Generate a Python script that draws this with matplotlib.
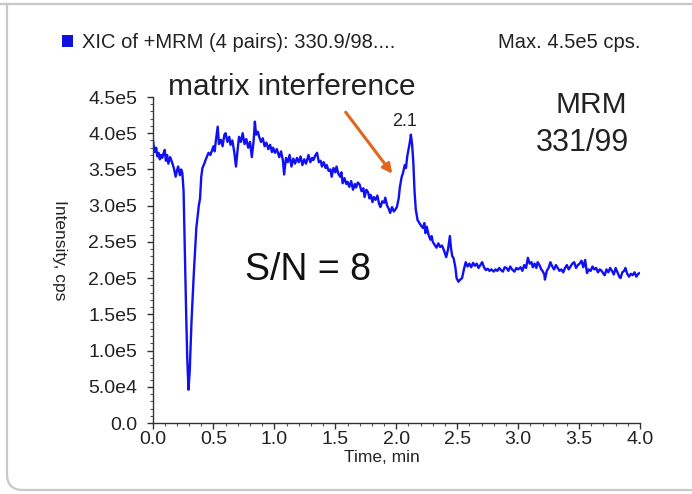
import matplotlib
matplotlib.use("Agg")
import matplotlib.pyplot as plt
from matplotlib.patches import FancyArrowPatch, Rectangle
from matplotlib.path import Path
from matplotlib.patches import PathPatch
import numpy as np

plt.rcParams['font.family'] = ['Liberation Sans', 'DejaVu Sans']

# XIC trace, time in min, intensity in units of 1e5 cps
time_min = [
    0.00, 0.01, 0.02, 0.03, 0.04, 0.05, 0.06, 0.07, 0.08, 0.09,
    0.10, 0.11, 0.12, 0.13, 0.145, 0.16, 0.175, 0.19, 0.20, 0.21,
    0.225, 0.235, 0.245, 0.255, 0.265, 0.275, 0.285, 0.295, 0.305, 0.32,
    0.34, 0.36, 0.38, 0.39, 0.40, 0.41, 0.425, 0.44, 0.46, 0.475,
    0.49, 0.50, 0.51, 0.52, 0.535, 0.545, 0.56, 0.575, 0.59, 0.60,
    0.615, 0.63, 0.64, 0.655, 0.67, 0.685, 0.70, 0.71, 0.725, 0.74,
    0.755, 0.77, 0.785, 0.80, 0.815, 0.83, 0.84, 0.85, 0.865, 0.875,
    0.89, 0.905, 0.92, 0.935, 0.95, 0.965, 0.98, 0.99, 1.005, 1.02,
    1.04, 1.055, 1.07, 1.08, 1.095, 1.11, 1.125, 1.14, 1.155, 1.17,
    1.185, 1.20, 1.215, 1.23, 1.245, 1.26, 1.28, 1.295, 1.31, 1.32,
    1.335, 1.35, 1.365, 1.38, 1.39, 1.405, 1.42, 1.43, 1.445, 1.46,
    1.47, 1.485, 1.50, 1.51, 1.525, 1.54, 1.55, 1.56, 1.575, 1.59,
    1.60, 1.615, 1.63, 1.645, 1.66, 1.67, 1.685, 1.70, 1.715, 1.73,
    1.74, 1.755, 1.77, 1.78, 1.79, 1.805, 1.815, 1.83, 1.845, 1.86,
    1.87, 1.885, 1.90, 1.91, 1.925, 1.94, 1.95, 1.965, 1.98, 1.99,
    2.005, 2.02, 2.03, 2.045, 2.055, 2.07, 2.08, 2.09, 2.10, 2.11,
    2.12, 2.13, 2.14, 2.15, 2.16, 2.175, 2.19, 2.205, 2.22, 2.23,
    2.24, 2.25, 2.265, 2.28, 2.29, 2.30, 2.315, 2.33, 2.345, 2.36,
    2.375, 2.39, 2.40, 2.41, 2.425, 2.44, 2.45, 2.46, 2.47, 2.485,
    2.495, 2.51, 2.525, 2.54, 2.555, 2.57, 2.585, 2.60, 2.615, 2.63,
    2.645, 2.66, 2.675, 2.69, 2.705, 2.72, 2.735, 2.75, 2.765, 2.78,
    2.80, 2.815, 2.83, 2.845, 2.86, 2.875, 2.89, 2.905, 2.92, 2.935,
    2.95, 2.97, 2.985, 3.00, 3.02, 3.035, 3.05, 3.065, 3.08, 3.095,
    3.11, 3.12, 3.135, 3.15, 3.16, 3.175, 3.19, 3.20, 3.215, 3.22,
    3.235, 3.25, 3.265, 3.28, 3.295, 3.31, 3.325, 3.34, 3.355, 3.37,
    3.385, 3.40, 3.415, 3.43, 3.445, 3.46, 3.475, 3.49, 3.505, 3.52,
    3.535, 3.55, 3.565, 3.58, 3.595, 3.61, 3.625, 3.64, 3.655, 3.67,
    3.685, 3.70, 3.71, 3.725, 3.74, 3.755, 3.77, 3.785, 3.80, 3.815,
    3.83, 3.84, 3.855, 3.87, 3.88, 3.895, 3.91, 3.925, 3.94, 3.955,
    3.97, 3.985, 4.00,
]
intensity_e5 = [
    3.95, 3.82, 3.74, 3.80, 3.68, 3.73, 3.64, 3.70, 3.66, 3.72,
    3.77, 3.62, 3.70, 3.58, 3.67, 3.60, 3.52, 3.40, 3.48, 3.54,
    3.42, 3.50, 3.45, 3.20, 2.40, 1.60, 0.90, 0.46, 0.70, 1.40,
    2.10, 2.70, 3.00, 3.10, 3.40, 3.52, 3.58, 3.65, 3.73, 3.70,
    3.77, 3.82, 3.75, 3.90, 4.09, 3.85, 3.91, 3.82, 3.98, 4.00,
    3.88, 3.95, 3.84, 3.90, 3.75, 3.54, 3.80, 3.95, 3.88, 4.00,
    3.85, 3.92, 3.80, 3.88, 3.67, 3.90, 4.16, 3.98, 4.02, 3.95,
    3.88, 3.93, 3.82, 3.87, 3.78, 3.84, 3.74, 3.80, 3.73, 3.78,
    3.67, 3.75, 3.62, 3.43, 3.66, 3.60, 3.70, 3.54, 3.65, 3.58,
    3.66, 3.60, 3.68, 3.56, 3.64, 3.58, 3.70, 3.60, 3.66, 3.63,
    3.69, 3.73, 3.60, 3.62, 3.54, 3.60, 3.52, 3.56, 3.48, 3.50,
    3.40, 3.52, 3.46, 3.54, 3.44, 3.40, 3.46, 3.31, 3.38, 3.30,
    3.33, 3.26, 3.34, 3.22, 3.30, 3.25, 3.32, 3.29, 3.20, 3.24,
    3.12, 3.22, 3.18, 3.10, 3.15, 3.05, 3.12, 3.08, 3.14, 3.02,
    2.98, 3.06, 3.04, 3.11, 3.00, 2.95, 2.90, 2.98, 2.92, 2.94,
    2.98, 3.10, 3.26, 3.40, 3.45, 3.56, 3.52, 3.68, 3.77, 3.86,
    3.98, 3.85, 3.60, 3.20, 2.95, 2.80, 2.76, 2.72, 2.69, 2.76,
    2.62, 2.71, 2.60, 2.53, 2.58, 2.50, 2.46, 2.42, 2.48, 2.43,
    2.45, 2.39, 2.34, 2.29, 2.40, 2.58, 2.40, 2.30, 2.28, 2.15,
    2.00, 1.95, 1.98, 2.00, 2.12, 2.22, 2.16, 2.20, 2.15, 2.21,
    2.17, 2.20, 2.14, 2.18, 2.22, 2.15, 2.11, 2.13, 2.10, 2.12,
    2.09, 2.12, 2.10, 2.14, 2.11, 2.09, 2.15, 2.14, 2.10, 2.16,
    2.12, 2.09, 2.14, 2.12, 2.15, 2.10, 2.18, 2.14, 2.28, 2.20,
    2.22, 2.15, 2.20, 2.14, 2.22, 2.18, 2.12, 2.10, 2.05, 1.98,
    2.10, 2.14, 2.22, 2.16, 2.12, 2.18, 2.14, 2.10, 2.12, 2.08,
    2.14, 2.18, 2.12, 2.16, 2.20, 2.22, 2.14, 2.18, 2.20, 2.24,
    2.15, 2.25, 2.07, 2.12, 2.10, 2.16, 2.12, 2.14, 2.08, 2.12,
    2.10, 2.06, 2.04, 2.12, 2.08, 2.14, 2.10, 2.05, 2.14, 2.08,
    2.02, 2.00, 2.08, 2.10, 2.14, 2.06, 2.02, 2.06, 2.04, 2.08,
    2.02, 2.06, 2.07,
]

x_ticks = [0.0, 0.5, 1.0, 1.5, 2.0, 2.5, 3.0, 3.5, 4.0]
y_ticks = [0, 0.5e5, 1.0e5, 1.5e5, 2.0e5, 2.5e5, 3.0e5, 3.5e5, 4.0e5, 4.5e5]
y_tick_labels = ['0.0', '5.0e4', '1.0e5', '1.5e5', '2.0e5', '2.5e5',
                 '3.0e5', '3.5e5', '4.0e5', '4.5e5']

W, H = 692, 494
fig = plt.figure(figsize=(W / 100, H / 100), dpi=100)
fig.patch.set_facecolor('white')

# card frame (top line, left side with rounded bottom corner)
def fx(px):
    return px / W

def fy(py):
    return 1 - py / H

fig.add_artist(plt.Line2D([0, 1], [fy(4), fy(4)], color='#c8c8c8', lw=1.6))
r = 16
verts = [(fx(7), fy(4)), (fx(7), fy(490 - r)), (fx(7), fy(490)),
         (fx(7 + r), fy(490)), (fx(W + 5), fy(490))]
codes = [Path.MOVETO, Path.LINETO, Path.CURVE3, Path.CURVE3, Path.LINETO]
fig.add_artist(PathPatch(Path(verts, codes), fill=False, edgecolor='#c8c8c8',
                         lw=1.6, transform=fig.transFigure))

ax = fig.add_axes([fx(152.5), fy(423), fx(640) - fx(152.5), fy(97) - fy(423)])
t = np.array(time_min)
y = np.array(intensity_e5) * 1e5
ax.plot(t, y, color='#1010f0', lw=1.7)

ax.set_xlim(0, 4.0)
ax.set_ylim(0, 4.5e5)
for s in ['top', 'right']:
    ax.spines[s].set_visible(False)
for s in ['left', 'bottom']:
    ax.spines[s].set_color('#333333')
    ax.spines[s].set_linewidth(1.0)

ax.set_xticks(x_ticks)
ax.set_xticklabels([f'{v:.1f}' for v in x_ticks])
ax.set_yticks(y_ticks)
ax.set_yticklabels(y_tick_labels)
ax.set_xticks(np.arange(0, 4.01, 0.1), minor=True)
ax.set_yticks(np.arange(0, 4.51e5, 0.1e5), minor=True)
ax.tick_params(axis='both', which='major', labelsize=14, length=4,
               width=1.0, color='#333333', labelcolor='#222222')
ax.tick_params(axis='both', which='minor', length=2.5, width=0.8,
               color='#555555')
ax.tick_params(axis='x', pad=2)
ax.tick_params(axis='y', pad=7)

ax.text(-0.19, 0.53, 'Intensity, cps', transform=ax.transAxes, rotation=270,
        ha='center', va='center', fontsize=12.5, color='#222222')
ax.text(0.47, -0.105, 'Time, min', transform=ax.transAxes, ha='center',
        va='center', fontsize=12.5, color='#222222')

# header
fig.add_artist(Rectangle((fx(62), fy(47)), fx(11), fy(35) - fy(47),
                         facecolor='#1010e0', edgecolor='none',
                         transform=fig.transFigure))
fig.text(fx(82), fy(42), 'XIC of +MRM (4 pairs): 330.9/98....', fontsize=14.5,
         va='center', ha='left', color='#222222')
fig.text(fx(640), fy(42), 'Max. 4.5e5 cps.', fontsize=14.5, va='center',
         ha='right', color='#222222')

# annotations
fig.text(fx(168), fy(87), 'matrix interference', fontsize=21.5, va='center',
         ha='left', color='#222222')
fig.text(fx(627), fy(105), 'MRM', fontsize=21.5, va='center', ha='right',
         color='#222222')
fig.text(fx(629), fy(143), '331/99', fontsize=22, va='center', ha='right',
         color='#222222')
fig.text(fx(308), fy(270), 'S/N = 8', fontsize=27, va='center', ha='center',
         color='#111111')
ax.text(2.07, 4.05e5, '2.1', fontsize=13, ha='center', va='bottom',
        color='#222222')

arrow = FancyArrowPatch((fx(344), fy(110)), (fx(394), fy(176)),
                        transform=fig.transFigure, arrowstyle='-|>',
                        mutation_scale=14, color='#e0651e', lw=2.2)
fig.add_artist(arrow)

fig.savefig('out.png', dpi=100, facecolor='white')
